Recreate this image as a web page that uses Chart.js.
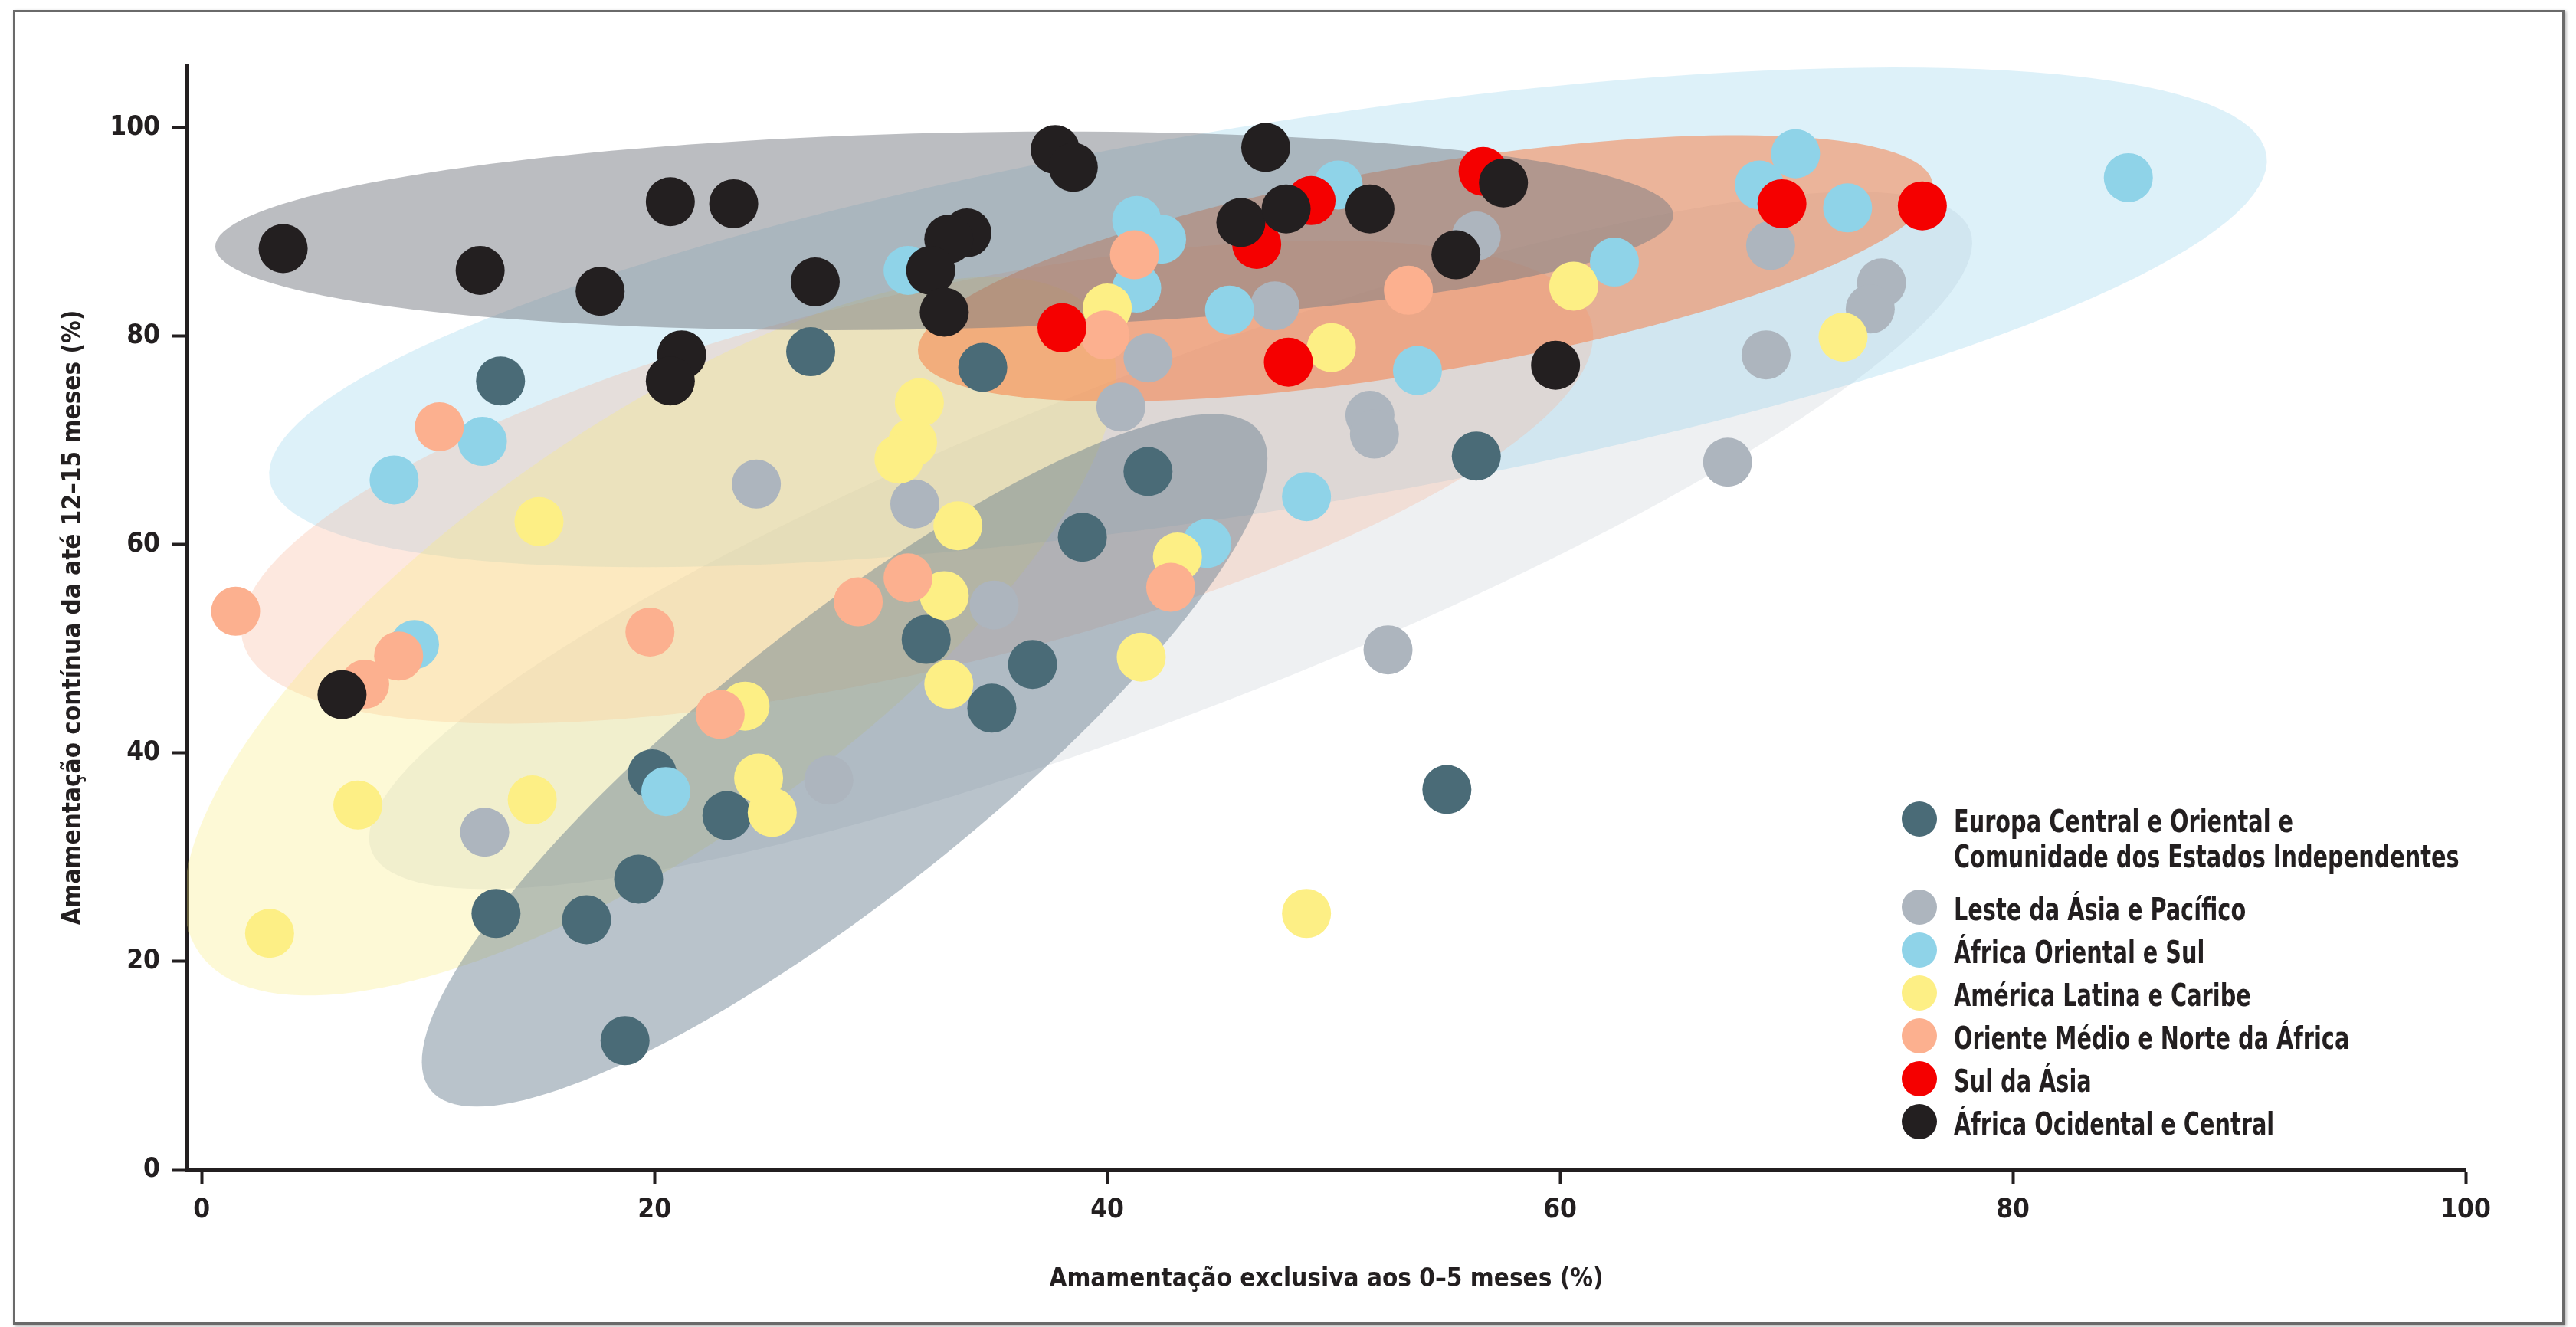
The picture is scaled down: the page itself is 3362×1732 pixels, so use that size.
<!DOCTYPE html>
<html lang="pt">
<head>
<meta charset="utf-8">
<title>Amamentação exclusiva e contínua</title>
<script src="https://cdn.jsdelivr.net/npm/chart.js@4.4.1/dist/chart.umd.min.js"></script>
<style>
    html, body { margin: 0; padding: 0; background: #fff; }
    #wrap { position: relative; width: 3362px; height: 1732px; overflow: hidden; }
    #frame {
        position: absolute; left: 17px; top: 13px; width: 3330px; height: 1716px;
        box-sizing: border-box; border: 3px solid #6a6a6a;
        box-shadow: 2px 2px 4px rgba(0, 0, 0, 0.35); pointer-events: none;
    }
    #legend {
        position: absolute; left: 2482px; top: 1049px;
        font: bold 41px "DejaVu Sans Condensed", sans-serif;
        color: #231f20;
    }
    .row { display: flex; align-items: flex-start; line-height: 46px; margin-bottom: 10px; }
    .row:first-child { margin-bottom: 23px; }
    .dot { flex: none; width: 46px; height: 46px; border-radius: 50%; margin: -3px 22px 0 0; }
    .txt { display: inline-block; white-space: pre; transform: scaleX(0.78); transform-origin: left top; }
</style>
</head>
<body>
<div id="wrap">
    <canvas id="chart" width="3362" height="1732"></canvas>
    <div id="legend"></div>
    <div id="frame"></div>
</div>
<script>
// ---- data (x = exclusiva 0-5 meses %, y = continua 12-15 meses %) ----
const regionNames = [
    "Europa Central e Oriental e\nComunidade dos Estados Independentes",
    "Leste da Ásia e Pacífico",
    "África Oriental e Sul",
    "América Latina e Caribe",
    "Oriente Médio e Norte da África",
    "Sul da Ásia",
    "África Ocidental e Central"
];

const europaX = [13.2, 26.9, 34.5, 41.8, 38.9, 56.3, 32.0, 36.7, 34.9, 19.9, 23.2, 19.3, 13.0, 17.0, 18.7, 55.0];
const europaY = [75.7, 78.5, 77.0, 67.0, 60.7, 68.5, 50.9, 48.5, 44.3, 38.0, 34.0, 27.9, 24.6, 24.0, 12.4, 36.5];

const lesteX = [24.5, 41.8, 40.6, 47.4, 56.3, 51.6, 51.8, 31.5, 35.0, 52.4, 69.3, 74.2, 73.7, 69.1, 67.4, 12.5, 27.7];
const lesteY = [65.8, 77.9, 73.2, 82.9, 89.6, 72.4, 70.6, 63.9, 54.2, 49.9, 88.7, 85.1, 82.6, 78.2, 67.9, 32.4, 37.4];

const orientalX = [12.4, 8.5, 9.4, 41.3, 42.4, 41.3, 45.4, 50.2, 53.7, 48.8, 44.4, 70.4, 68.8, 72.7, 85.1, 62.4, 20.5, 31.2];
const orientalY = [69.9, 66.2, 50.4, 91.1, 89.3, 84.6, 82.5, 94.5, 76.7, 64.6, 60.1, 97.5, 94.5, 92.3, 95.2, 87.1, 36.3, 86.3];

const latinaX = [14.9, 24.0, 40.0, 31.7, 31.4, 30.8, 33.4, 32.8, 33.0, 43.1, 41.5, 49.9, 60.6, 72.5, 24.6, 25.2, 6.9, 14.6, 3.0, 48.8];
const latinaY = [62.2, 44.5, 82.7, 73.6, 69.8, 68.2, 61.8, 55.1, 46.6, 58.8, 49.2, 78.9, 84.8, 79.9, 37.6, 34.3, 35.0, 35.5, 22.7, 24.6];

const orienteX = [10.5, 1.5, 8.7, 7.2, 19.8, 22.9, 29.0, 41.2, 39.9, 53.3, 31.2, 42.8];
const orienteY = [71.3, 53.6, 49.3, 46.6, 51.6, 43.7, 54.5, 87.8, 80.1, 84.4, 56.8, 55.9];

const sulX = [38.0, 46.6, 49.0, 56.6, 48.0, 69.8, 76.0];
const sulY = [80.8, 88.8, 93.0, 95.8, 77.5, 92.7, 92.5];

const ocidentalX = [3.6, 12.3, 17.6, 20.7, 23.5, 27.1, 21.2, 20.7, 6.2, 37.7, 38.5, 47.0, 33.8, 33.0, 32.2, 32.8, 45.9, 47.9, 51.6, 55.4, 57.5, 59.8];
const ocidentalY = [88.4, 86.3, 84.3, 92.9, 92.7, 85.2, 78.2, 75.7, 45.6, 97.9, 96.2, 98.1, 89.9, 89.3, 86.3, 82.3, 90.9, 92.2, 92.2, 87.8, 94.7, 77.2];

const xTicks = [0, 20, 40, 60, 80, 100];
const yTicks = [0, 20, 40, 60, 80, 100];

// ---- styles ----
const pointColors = ["#4a6b77", "#adb5be", "#8fd3e8", "#fdef85", "#fcb08f", "#f50000", "#231f20"];
const ink = "#231f20";
const fontFamily = '"DejaVu Sans Condensed", sans-serif';

// shaded regions behind the points, in data units: centre, semi-axis u, semi-axis v
const shading = [
    { c: [42.8, 60.4], u: [35.3, 29.8], v: [2.7, -15.2],   fill: "rgba(200, 205, 212, 0.30)" },
    { c: [47.1, 81.8], u: [44.1, 15.6], v: [1.35, -18.2],  fill: "rgba(120, 200, 230, 0.25)" },
    { c: [31.6, 66.0], u: [29.8, 15.2], v: [1.9, -17.5],   fill: "rgba(250, 180, 150, 0.30)" },
    { c: [19.8, 51.2], u: [19.9, 30.4], v: [5.24, -16.25], fill: "rgba(250, 235, 120, 0.30)" },
    { c: [28.4, 39.3], u: [18.3, 31.6], v: [3.73, -10.26], fill: "rgba(100, 122, 139, 0.45)" },
    { c: [54.05, 86.5], u: [22.4, 8.2], v: [0.75, -9.8],   fill: "rgba(250, 120, 60, 0.50)" },
    { c: [32.8, 90.1], u: [32.2, 1.54], v: [0.1, -9.4],    fill: "rgba(120, 124, 132, 0.50)" }
];

const seriesX = [europaX, lesteX, orientalX, latinaX, orienteX, sulX, ocidentalX];
const seriesY = [europaY, lesteY, orientalY, latinaY, orienteY, sulY, ocidentalY];

const regionShapes = {
    id: "regionShapes",
    beforeDatasetsDraw(chart) {
        const { ctx, chartArea, scales: { x, y } } = chart;
        ctx.save();
        ctx.beginPath();
        ctx.rect(chartArea.left, chartArea.top, chartArea.width, chartArea.height);
        ctx.clip();
        shading.forEach(e => {
            ctx.beginPath();
            for (let k = 0; k <= 160; k++) {
                const t = k / 160 * Math.PI * 2;
                const px = x.getPixelForValue(e.c[0] + e.u[0] * Math.cos(t) + e.v[0] * Math.sin(t));
                const py = y.getPixelForValue(e.c[1] + e.u[1] * Math.cos(t) + e.v[1] * Math.sin(t));
                if (k === 0) ctx.moveTo(px, py); else ctx.lineTo(px, py);
            }
            ctx.closePath();
            ctx.fillStyle = e.fill;
            ctx.fill();
        });
        ctx.restore();
    }
};

const datasets = regionNames.map((name, i) => ({
    label: name,
    data: seriesX[i].map((x, k) => ({ x: x, y: seriesY[i][k] })),
    backgroundColor: pointColors[i],
    borderWidth: 0,
    pointRadius: 32,
    pointHoverRadius: 32,
    order: regionNames.length - i   // last region drawn on top
}));

new Chart(document.getElementById("chart"), {
    type: "scatter",
    data: { datasets },
    options: {
        responsive: false,
        devicePixelRatio: 1,
        animation: false,
        events: [],
        layout: { autoPadding: false, padding: { left: 40, right: 144, top: 85, bottom: 20 } },
        plugins: { legend: { display: false }, tooltip: { enabled: false } },
        scales: {
            x: {
                type: "linear",
                min: -0.65,
                max: 100,
                afterBuildTicks: s => { s.ticks = xTicks.map(v => ({ value: v })); },
                afterFit: s => { s.height = 185; },
                grid: { drawOnChartArea: false, drawTicks: true, tickLength: 18, tickWidth: 4, tickColor: ink },
                border: { display: true, color: ink, width: 5 },
                ticks: { color: ink, padding: 14, font: { family: fontFamily, size: 35, weight: "bold" } },
                title: {
                    display: true,
                    text: "Amamentação exclusiva aos 0–5 meses (%)",
                    color: ink,
                    padding: { top: 0, bottom: 22 },
                    font: { family: fontFamily, size: 33, weight: "bold" }
                }
            },
            y: {
                type: "linear",
                min: 0,
                max: 106,
                afterBuildTicks: s => { s.ticks = yTicks.map(v => ({ value: v })); },
                afterFit: s => { s.width = 204; },
                grid: { drawOnChartArea: false, drawTicks: true, tickLength: 20, tickWidth: 4, tickColor: ink },
                border: { display: true, color: ink, width: 5 },
                ticks: { color: ink, padding: 15, font: { family: fontFamily, size: 35, weight: "bold" } },
                title: {
                    display: true,
                    text: "Amamentação contínua da até 12–15 meses (%)",
                    color: ink,
                    padding: { top: 37, bottom: 0 },
                    font: { family: fontFamily, size: 33, weight: "bold" }
                }
            }
        }
    },
    plugins: [regionShapes]
});

// legend
const legendBox = document.getElementById("legend");
regionNames.forEach((name, i) => {
    const row = document.createElement("div");
    row.className = "row";
    const dot = document.createElement("span");
    dot.className = "dot";
    dot.style.background = pointColors[i];
    const label = document.createElement("span");
    label.className = "txt";
    label.textContent = name;
    row.appendChild(dot);
    row.appendChild(label);
    legendBox.appendChild(row);
});
</script>
</body>
</html>
